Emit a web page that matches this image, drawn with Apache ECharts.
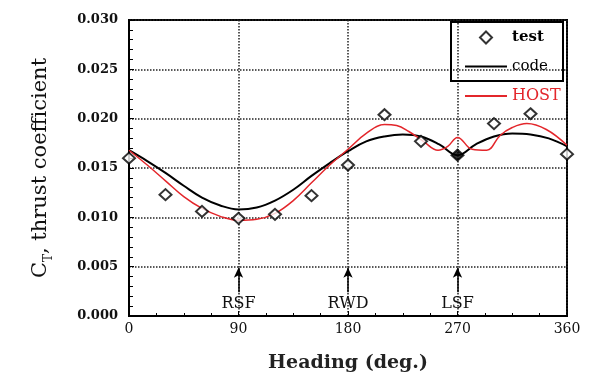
<!DOCTYPE html>
<html><head><meta charset="utf-8">
<script src="https://cdn.jsdelivr.net/npm/echarts@6/dist/echarts.min.js"></script>
<style>html,body{margin:0;padding:0;background:#fff}#c{width:592px;height:381px}</style>
</head><body><div id="c"></div>
<script>
var testHeading = [0, 30, 60, 90, 120, 150, 180, 210, 240, 270, 300, 330, 360];
var testValues = [0.0160, 0.0123, 0.0106, 0.0099, 0.0103, 0.0122, 0.0153, 0.0204, 0.0177, 0.0163, 0.0195, 0.0205, 0.0164];

var codeHeading = [0, 15, 30, 45, 60, 75, 90, 105, 120, 135, 150, 165, 180, 195, 210, 225, 240, 255, 270, 285, 300, 315, 330, 345, 360];
var codeValues = [0.0168, 0.0157, 0.0145, 0.0132, 0.0120, 0.0112, 0.0108, 0.0110, 0.0117, 0.0128, 0.0142, 0.0155, 0.0167, 0.0177, 0.0182, 0.0184, 0.0182, 0.0174, 0.0163, 0.0174, 0.0182, 0.0185, 0.0184, 0.0180, 0.0172];

var hostHeading = [0, 15, 30, 45, 60, 75, 90, 105, 120, 135, 150, 165, 180, 195, 210, 220, 230, 242, 254, 262, 270, 282, 294, 305, 315, 327, 343, 360];
var hostValues = [0.0168, 0.0153, 0.0137, 0.0121, 0.0109, 0.0101, 0.0097, 0.0098, 0.0104, 0.0117, 0.0135, 0.0153, 0.0169, 0.0185, 0.0194, 0.0193, 0.0187, 0.0177, 0.0168, 0.0172, 0.0181, 0.0169, 0.0168, 0.0183, 0.0191, 0.0195, 0.0189, 0.0173];

var markHeading = [90, 180, 270];
var markNames = ['RSF', 'RWD', 'LSF'];
var yTicks = [0, 0.005, 0.010, 0.015, 0.020, 0.025, 0.030];

function pairs(xs, ys) { return xs.map(function (x, i) { return [x, ys[i]]; }); }

var SERIF = 'DejaVu Serif';
var LINE_ICON = 'path://M0,0h42v2h-42z';
var DIAMOND_ICON = 'path://M6,0L12,6L6,12L0,6Z';
var chart = echarts.init(document.getElementById('c'));
var testData = pairs(testHeading, testValues).map(function (p) {
  if (p[0] === 270) return { value: p, itemStyle: { color: '#000' } };
  return p;
});

chart.setOption({
  backgroundColor: '#fff',
  animation: false,
  grid: { left: 129, right: 25, top: 20, bottom: 65, show: true, borderColor: '#000', borderWidth: 2, backgroundColor: 'transparent' },
  legend: {
    orient: 'vertical', left: 460, top: 25, itemWidth: 42, itemHeight: 12, itemGap: 14,
    symbolKeepAspect: true,
    textStyle: { fontFamily: SERIF, fontSize: 15, color: '#000' },
    data: [
      { name: 'test', icon: DIAMOND_ICON, textStyle: { fontWeight: 'bold' } },
      { name: 'code', icon: LINE_ICON },
      { name: 'HOST', icon: LINE_ICON, textStyle: { color: '#e3262b', fontSize: 16 } }
    ]
  },
  graphic: [{
    type: 'rect', shape: { x: 451, y: 22, width: 112, height: 59 },
    style: { fill: 'none', stroke: '#000', lineWidth: 2 }, z: 100
  }],
  xAxis: {
    type: 'value', min: 0, max: 360, interval: 90,
    name: 'Heading (deg.)', nameLocation: 'middle', nameGap: 38,
    nameTextStyle: { fontFamily: SERIF, fontSize: 19, fontWeight: 'bold', color: '#222' },
    axisLine: { lineStyle: { color: '#000', width: 2 } },
    axisTick: { inside: true, length: 5, lineStyle: { color: '#000' } },
    minorTick: { show: true, splitNumber: 4, length: 3, lineStyle: { color: '#000' } },
    axisLabel: { fontFamily: SERIF, fontSize: 14, color: '#111', margin: 6 },
    splitLine: { show: true, lineStyle: { type: 'dotted', color: '#222', width: 1.5 } }
  },
  yAxis: {
    type: 'value', min: 0, max: 0.030, interval: 0.005,
    name: '{c|C}{t|T}{c|, thrust coefficient}', nameLocation: 'middle', nameGap: 74,
    nameTextStyle: {
      rich: {
        c: { fontFamily: SERIF, fontSize: 21, color: '#111', lineHeight: 28, verticalAlign: 'middle' },
        t: { fontFamily: SERIF, fontSize: 12, color: '#111', lineHeight: 28, verticalAlign: 'bottom' }
      }
    },
    axisLine: { show: true, lineStyle: { color: '#000', width: 2 } },
    axisTick: { show: true, inside: true, length: 5, lineStyle: { color: '#000' } },
    minorTick: { show: true, splitNumber: 5, length: 4, lineStyle: { color: '#000' } },
    axisLabel: { fontFamily: SERIF, fontSize: 13, fontWeight: 'bold', color: '#111', margin: 11,
      formatter: function (v) { return v.toFixed(3); } },
    splitLine: { show: true, lineStyle: { type: 'dotted', color: '#222', width: 1.5 } }
  },
  series: [
    {
      name: 'code', type: 'line', data: pairs(codeHeading, codeValues), smooth: 0.4,
      symbol: 'none', lineStyle: { color: '#000', width: 2 }, itemStyle: { color: '#000' }, z: 3
    },
    {
      name: 'HOST', type: 'line', data: pairs(hostHeading, hostValues), smooth: 0.4,
      symbol: 'none', lineStyle: { color: '#e3262b', width: 1.5 }, itemStyle: { color: '#e3262b' }, z: 4
    },
    {
      name: 'test', type: 'scatter', data: testData, symbol: 'diamond', symbolSize: [12, 11],
      itemStyle: { color: '#fff', borderColor: '#000', borderWidth: 2 }, z: 5,
      markLine: {
        silent: true, symbol: ['none', 'arrow'], symbolSize: [7, 10], animation: false,
        lineStyle: { color: '#000', width: 1.5, type: 'solid' },
        label: { show: true, position: 'start', formatter: '{b}', fontFamily: SERIF, fontSize: 16, color: '#111', distance: 4 },
        data: markHeading.map(function (h, i) {
          return [{ name: markNames[i], coord: [h, 0.0024] }, { coord: [h, 0.0049] }];
        })
      }
    }
  ]
});
</script></body></html>
